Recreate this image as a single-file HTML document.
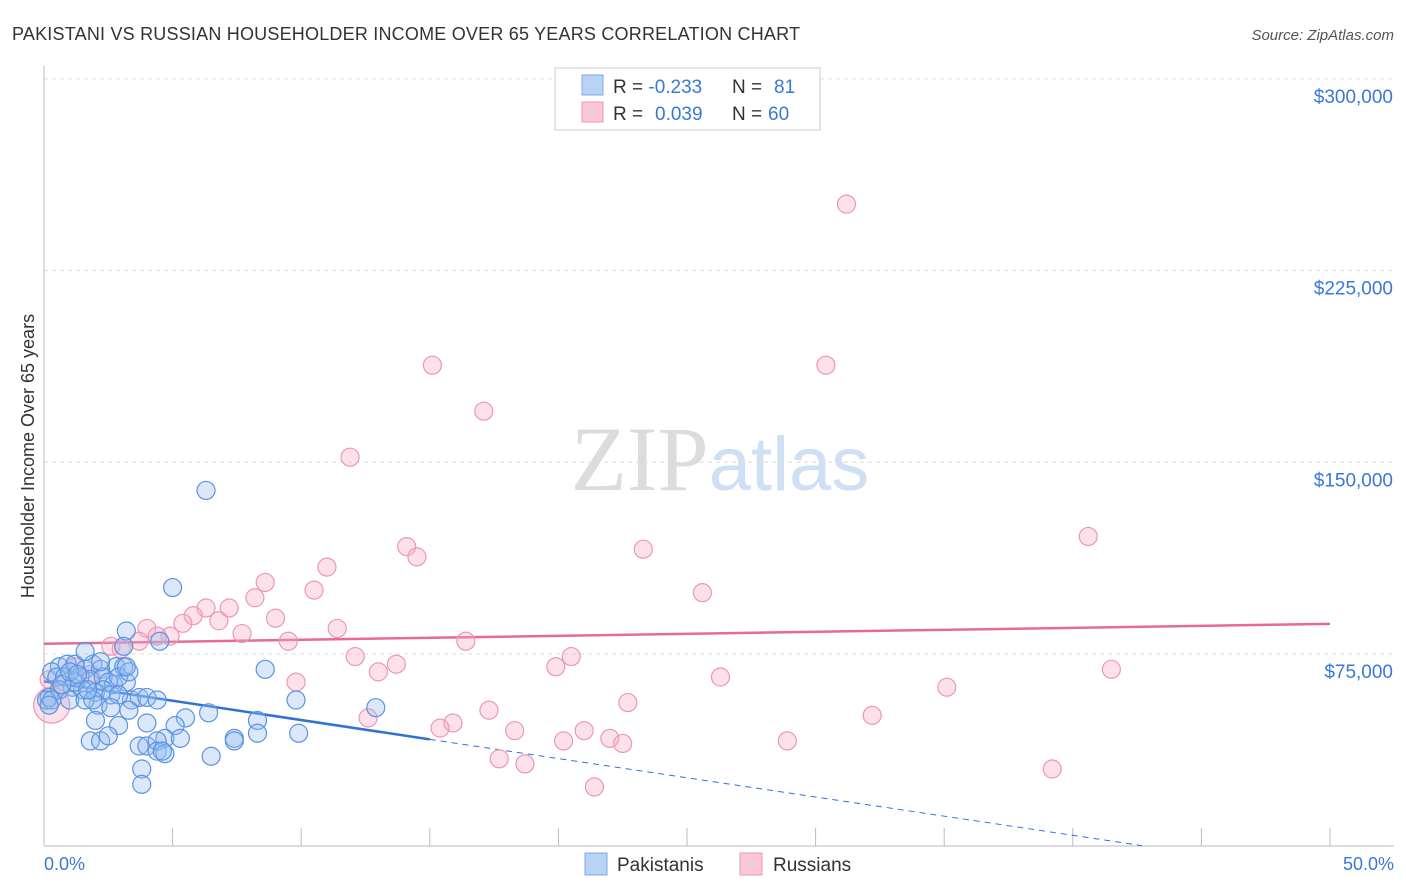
<!DOCTYPE html>
<html><head><meta charset="utf-8"><style>
body{margin:0;background:#fff;font-family:"Liberation Sans",sans-serif;}
svg{display:block}
</style></head><body>
<svg id="chart" width="1406" height="892" xmlns="http://www.w3.org/2000/svg">
<text x="12" y="40" font-size="18" fill="#333" textLength="788">PAKISTANI VS RUSSIAN HOUSEHOLDER INCOME OVER 65 YEARS CORRELATION CHART</text>
<text x="1394" y="40" font-size="15" fill="#555" font-style="italic" text-anchor="end">Source: ZipAtlas.com</text>
<text x="720" y="490" font-size="92" text-anchor="middle"><tspan fill="#dcdcdc" font-family="Liberation Serif,serif">ZIP</tspan><tspan fill="#cfe0f4" font-size="76">atlas</tspan></text>
<g id="grid"></g>
<g id="axes"></g>
<g id="trend"></g>
<g id="pts"></g>
<text transform="translate(34,456) rotate(-90)" font-size="18" fill="#333" text-anchor="middle">Householder Income Over 65 years</text>
<text x="44" y="870" font-size="18" fill="#3a78d8">0.0%</text>
<text x="1394" y="870" font-size="18" fill="#3a78d8" text-anchor="end">50.0%</text>
<g>
<rect x="555" y="68" width="265" height="62" fill="#fff" stroke="#ccc"/>
<rect x="582" y="75" width="21" height="20" fill="#b9d3f5" stroke="#7fa9e6"/>
<rect x="582" y="102" width="21" height="20" fill="#f9c7d6" stroke="#eb9ab3"/>
<text x="613" y="93" font-size="19" fill="#333">R = <tspan fill="#3a78d8">-0.233</tspan><tspan x="732">N = </tspan><tspan x="774" fill="#3a78d8">81</tspan></text>
<text x="613" y="120" font-size="19" fill="#333">R = <tspan x="655" fill="#3a78d8">0.039</tspan><tspan x="732">N = </tspan><tspan x="768" fill="#3a78d8">60</tspan></text>
</g>
<g>
<rect x="585" y="853" width="22" height="22" fill="#b9d3f5" stroke="#7fa9e6"/>
<text x="617" y="871" font-size="19" fill="#333">Pakistanis</text>
<rect x="740" y="853" width="22" height="22" fill="#f9c7d6" stroke="#eb9ab3"/>
<text x="773" y="871" font-size="19" fill="#333">Russians</text>
</g>
</svg>
<script>
const yTicks=[75000,150000,225000,300000];
const yTickLabels=["$75,000","$150,000","$225,000","$300,000"];
const xTicks=[0,5,10,15,20,25,30,35,40,45,50];
const pakX=[6.3,5.0,3.2,4.5,3.1,2.8,3.1,8.6,0.6,0.9,1.2,1.6,1.9,2.2,0.3,0.5,0.8,1.4,1.8,2.3,2.5,2.7,1.1,0.6,1.5,2.0,2.3,2.6,3.2,3.4,3.7,4.0,4.4,2.9,0.2,0.1,2.1,3.3,9.8,12.9,5.5,2.0,2.9,6.4,5.1,8.3,4.0,4.7,5.3,7.4,8.3,9.9,1.8,2.2,2.5,3.7,4.0,4.4,4.4,4.7,4.6,6.5,3.8,3.8,7.4,0.3,0.2,1.0,1.6,1.6,2.9,3.3,2.6,1.2,0.7,1.9,2.2,1.0,1.3,1.7,3.2];
const pakY=[139,101,84,80,78,70,70,69,70,71,71,69,71,69,68,66,66,66,65,66,64,63,62,61,61,60,61,59,64,57,58,58,57,59,58,57,55,53,57,54,50,49,47,52,47,49,48,42,42,42,44,44,41,41,43,39,39,41,37,36,37,35,30,24,41,57,55,57,57,76,66,68,54,64,63,57,72,68,67,61,70];
const rusX=[31.2,15.1,30.4,17.1,11.9,40.6,14.1,14.5,23.3,11.0,8.6,10.5,25.6,8.2,6.3,7.2,5.8,9.0,6.8,5.4,4.0,4.9,7.7,4.4,11.4,9.5,16.4,2.6,3.0,12.1,20.5,13.7,13.0,19.9,41.5,26.3,35.1,9.8,1.8,1.2,0.6,0.3,22.7,12.6,17.3,15.9,15.4,32.2,18.3,21.0,22.0,22.5,20.2,28.9,17.7,18.7,39.2,21.4,3.7,0.2];
const rusY=[251,188,188,170,152,121,117,113,116,109,103,100,99,97,93,93,90,89,88,87,85,82,83,82,85,80,80,78,77,74,74,71,68,70,69,66,62,64,67,70,61,55,56,50,53,48,46,51,45,45,42,40,41,41,34,32,30,23,80,65];
const pakTrend=[[0,64300],[15,41600]];
const pakTrendDash=[[15,41600],[42.7,0]];
const rusTrend=[[0,79000],[50,86800]];
const NS="http://www.w3.org/2000/svg";
const X0=44,X1=1330,Y0=845.7,YPER=191.7/75000;
const xs=v=>X0+(X1-X0)*v/50;
const ys=v=>Y0-v*YPER;
function mk(t,a,p){const e=document.createElementNS(NS,t);for(const k in a)e.setAttribute(k,a[k]);p.appendChild(e);return e;}
const grid=document.getElementById('grid'),axes=document.getElementById('axes');
yTicks.forEach((v,i)=>{
 const l=mk('line',{x1:44,x2:1394,y1:ys(v),y2:ys(v),stroke:'#ddd','stroke-dasharray':'4 4'},grid);
 
 
 const t=mk('text',{x:1393,y:ys(v)+24,'font-size':19,fill:'#3a78d8','text-anchor':'end'},axes);
 t.textContent=yTickLabels[i];
 
 
});
const ax=mk('line',{x1:44,x2:44,y1:66,y2:846,stroke:'#bbb'},axes);


const bx=mk('line',{x1:44,x2:1394,y1:846,y2:846,stroke:'#bbb'},axes);


xTicks.forEach(v=>{const t=mk('line',{x1:xs(v),x2:xs(v),y1:828,y2:846,stroke:'#bbb'},axes);
 
 });
const tr=document.getElementById('trend');
let l1=mk('line',{x1:xs(rusTrend[0][0]),y1:ys(rusTrend[0][1]),x2:xs(rusTrend[1][0]),y2:ys(rusTrend[1][1]),stroke:'#e8689a','stroke-width':2.5},tr);


let l2=mk('line',{x1:xs(pakTrend[0][0]),y1:ys(pakTrend[0][1]),x2:xs(pakTrend[1][0]),y2:ys(pakTrend[1][1]),stroke:'#2f72d6','stroke-width':2.5},tr);


let l3=mk('line',{x1:xs(pakTrendDash[0][0]),y1:ys(pakTrendDash[0][1]),x2:xs(pakTrendDash[1][0]),y2:ys(pakTrendDash[1][1]),stroke:'#2f72d6','stroke-width':1,'stroke-dasharray':'6 5'},tr);


const pts=document.getElementById('pts');
rusX.forEach((x,i)=>{const c=mk('circle',{cx:xs(x),cy:ys(rusY[i]*1000),r:i==41?18:9,fill:'rgba(245,170,195,0.35)',stroke:'#ec98b4','stroke-width':1.2},pts);
 
 });
pakX.forEach((x,i)=>{const c=mk('circle',{cx:xs(x),cy:ys(pakY[i]*1000),r:9,fill:'rgba(150,190,240,0.35)',stroke:'#5b93e0','stroke-width':1.2},pts);
 
 });
</script>
</body></html>
